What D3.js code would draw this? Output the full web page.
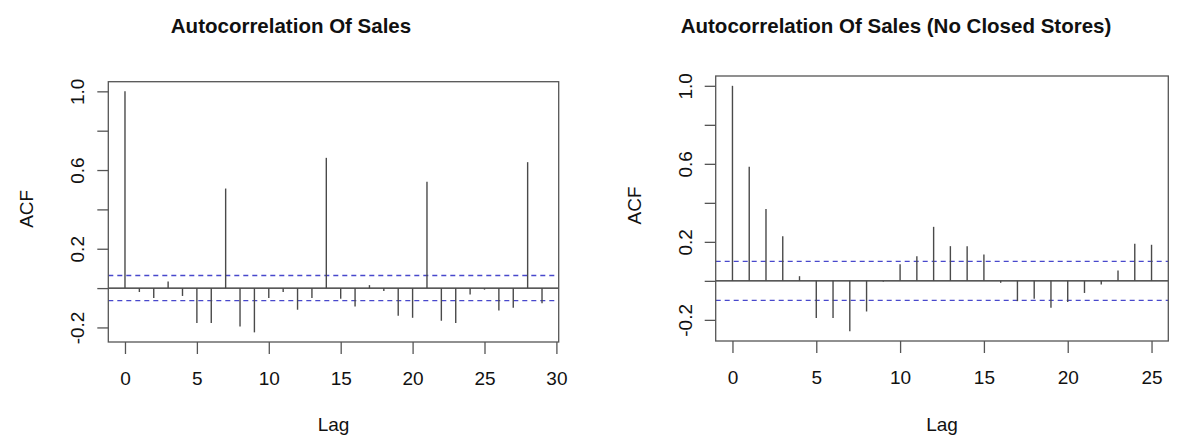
<!DOCTYPE html>
<html>
<head>
<meta charset="utf-8">
<script src="https://cdn.jsdelivr.net/npm/d3@7"></script>
<style>
  body { margin: 0; background: #fff; }
  text { font-family: "Liberation Sans", Arial, sans-serif; fill: #111; }
</style>
</head>
<body>
<svg id="plot" width="1196" height="438"></svg>
<script>
// ACF values (lag 0..29 and 0..25)
var lagsAll = d3.range(0, 30);
var acfAll = [1.0, -0.02, -0.05, 0.034, -0.04, -0.178, -0.178, 0.506, -0.195, -0.225,
  -0.05, -0.02, -0.11, -0.05, 0.662, -0.054, -0.094, 0.015, -0.015, -0.141,
  -0.151, 0.54, -0.166, -0.178, -0.032, -0.008, -0.114, -0.10, 0.64, -0.077];
var ciAll = 0.064;

var lagsOpen = d3.range(0, 26);
var acfOpen = [1.0, 0.585, 0.368, 0.229, 0.024, -0.19, -0.19, -0.258, -0.157, -0.004,
  0.085, 0.126, 0.277, 0.178, 0.178, 0.135, -0.01, -0.104, -0.092, -0.138,
  -0.108, -0.062, -0.019, 0.053, 0.19, 0.185];
var ciOpen = 0.10;

var yTicks = [-0.2, 0, 0.2, 0.4, 0.6, 0.8, 1.0];
var yLabels = ["-0.2", "0.2", "0.6", "1.0"];

var svg = d3.select('#plot');

function drawAcf(opt) {
  var lags = opt.lags, vals = opt.vals;
  var maxLag = d3.max(lags);
  // R style 4% extension of both axes
  var yMin = Math.min(d3.min(vals), -opt.ci), yMax = Math.max(d3.max(vals), opt.ci);
  var yPad = (yMax - yMin) * 0.04;
  var x = d3.scaleLinear().domain([-maxLag * 0.04, maxLag * 1.04]).range([opt.left, opt.right]);
  var y = d3.scaleLinear().domain([yMin - yPad, yMax + yPad]).range([opt.bottom, opt.top]);

  var g = svg.append('g');

  // title
  g.append('text')
    .attr('x', opt.titleX)
    .attr('y', 33)
    .attr('text-anchor', 'middle')
    .style('font-size', '20.5px')
    .style('font-weight', 'bold')
    .text(opt.title);

  // zero line
  g.append('line')
    .attr('x1', opt.left).attr('x2', opt.right)
    .attr('y1', y(0)).attr('y2', y(0))
    .style('stroke', '#222').style('stroke-width', 1.2);

  // confidence bands
  [opt.ci, -opt.ci].forEach(function(c) {
    g.append('line')
      .attr('x1', opt.left).attr('x2', opt.right)
      .attr('y1', y(c)).attr('y2', y(c))
      .style('stroke', '#4848cc')
      .style('stroke-width', 1.3)
      .style('stroke-dasharray', '5,4');
  });

  // spikes
  g.selectAll('.spike')
    .data(lags)
    .enter()
    .append('line')
    .attr('class', 'spike')
    .attr('x1', function(d) { return x(d); })
    .attr('x2', function(d) { return x(d); })
    .attr('y1', y(0))
    .attr('y2', function(d, i) { return y(vals[i]); })
    .style('stroke', '#4a4a4a')
    .style('stroke-width', 1.4);

  // box
  g.append('rect')
    .attr('x', opt.left).attr('y', opt.top)
    .attr('width', opt.right - opt.left).attr('height', opt.bottom - opt.top)
    .style('fill', 'none').style('stroke', '#555').style('stroke-width', 1.3);

  // x axis
  var xa = g.append('g')
    .attr('transform', 'translate(0,' + opt.bottom + ')')
    .call(d3.axisBottom(x).tickValues(d3.range(0, maxLag + 2, 5)).tickSize(12).tickFormat(d3.format('d')));
  xa.select('.domain').remove();
  xa.selectAll('line').style('stroke', '#555').style('stroke-width', 1.3);
  xa.selectAll('text').style('font-size', '19px').attr('y', 43).attr('dy', 0).style('fill', '#111');

  // y axis
  var ya = g.append('g')
    .attr('transform', 'translate(' + opt.left + ',0)')
    .call(d3.axisLeft(y).tickValues(yTicks).tickSize(11)
      .tickFormat(function(d) { var s = d.toFixed(1); return yLabels.indexOf(s) >= 0 ? s : ''; }));
  ya.select('.domain').remove();
  ya.selectAll('line').style('stroke', '#555').style('stroke-width', 1.3);
  ya.selectAll('text')
    .style('font-size', '19px')
    .style('fill', '#111')
    .attr('x', null).attr('dy', null)
    .attr('text-anchor', 'middle')
    .attr('transform', 'translate(-24,0) rotate(-90)');

  // axis titles
  g.append('text')
    .attr('x', (opt.left + opt.right) / 2)
    .attr('y', 431)
    .attr('text-anchor', 'middle')
    .style('font-size', '19px')
    .text('Lag');
  g.append('text')
    .attr('transform', 'translate(' + (opt.left - 75) + ',' + ((opt.top + opt.bottom) / 2 - 3) + ') rotate(-90)')
    .attr('text-anchor', 'middle')
    .style('font-size', '19px')
    .text('ACF');
}

drawAcf({ lags: lagsAll, vals: acfAll, ci: ciAll, title: 'Autocorrelation Of Sales',
  left: 108.3, right: 558.7, top: 81.7, bottom: 342, titleX: 291 });
drawAcf({ lags: lagsOpen, vals: acfOpen, ci: ciOpen, title: 'Autocorrelation Of Sales (No Closed Stores)',
  left: 715.7, right: 1168.3, top: 76, bottom: 341, titleX: 896 });
</script>
</body>
</html>
